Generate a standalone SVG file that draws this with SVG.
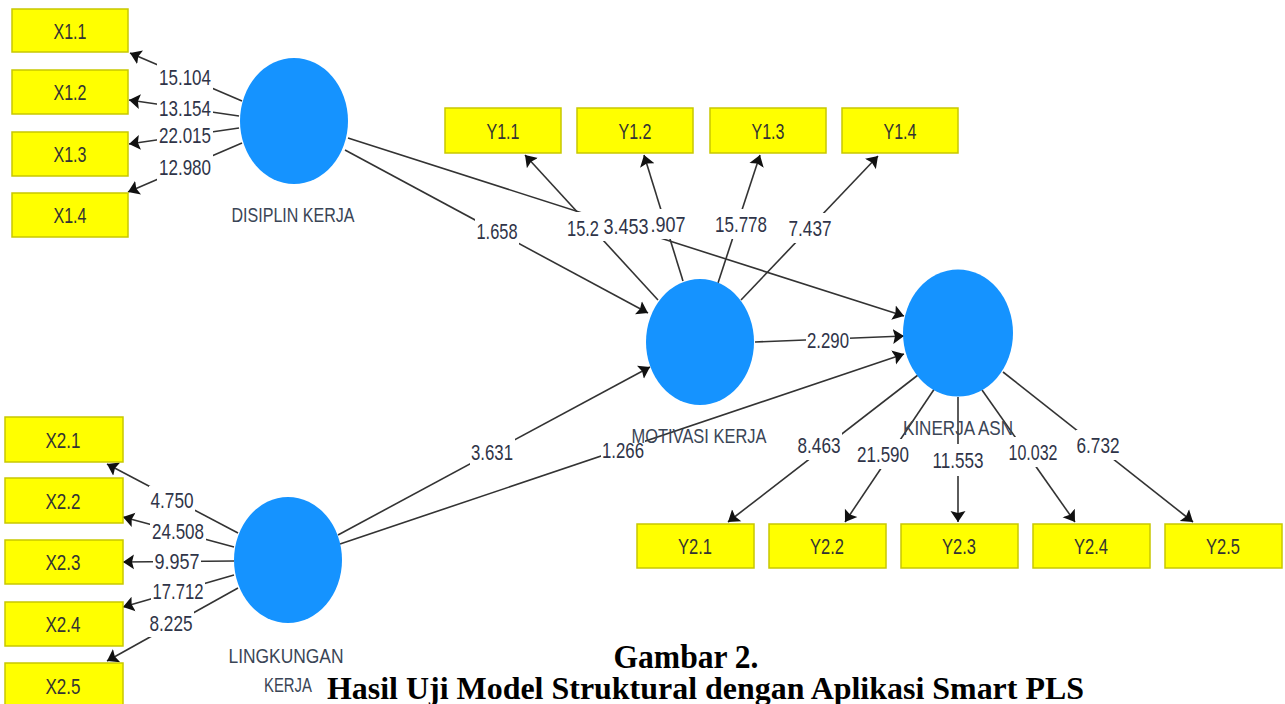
<svg xmlns="http://www.w3.org/2000/svg" width="1285" height="704" viewBox="0 0 1285 704">
<style>
.box{fill:#ffff00;stroke:#c8c800;stroke-width:1.5}
.bt{font-family:"Liberation Sans",Arial,sans-serif;font-size:22px;fill:#333;text-anchor:middle}
.lv{fill:#1593ff}
.nl{font-family:"Liberation Sans",Arial,sans-serif;font-size:21px;fill:#3a4556;text-anchor:middle}
.ln{stroke:#333;stroke-width:1.6;fill:none;marker-end:url(#ah)}
.bg{fill:#fff}
.num{font-family:"Liberation Sans",Arial,sans-serif;font-size:22px;fill:#2f3448;text-anchor:middle}
.cap{font-family:"Liberation Serif","Times New Roman",serif;font-weight:bold;fill:#000}
</style>
<defs>
<marker id="ah" markerUnits="userSpaceOnUse" markerWidth="12" markerHeight="16" viewBox="0 0 12 16" refX="11" refY="8" orient="auto">
<path d="M0,0.5 L11,8 L0,15.5 L2,8 z" fill="#111"/>
</marker>
</defs>
<rect width="1285" height="704" fill="#fff"/>

<g id="connectors">
<line class="ln" x1="242" y1="101" x2="130" y2="53"/>
<line class="ln" x1="239" y1="116" x2="129" y2="100"/>
<line class="ln" x1="239" y1="128" x2="129" y2="144"/>
<line class="ln" x1="242" y1="143" x2="128" y2="192"/>
<line class="ln" x1="238" y1="533" x2="107" y2="464"/>
<line class="ln" x1="234" y1="547" x2="123" y2="517"/>
<line class="ln" x1="234" y1="561" x2="123" y2="562"/>
<line class="ln" x1="234" y1="575" x2="123" y2="607"/>
<line class="ln" x1="238" y1="588" x2="107" y2="661"/>
<line class="ln" x1="345" y1="150" x2="648" y2="313"/>
<line class="ln" x1="348" y1="138" x2="904" y2="316"/>
<line class="ln" x1="755" y1="342" x2="904" y2="336"/>
<line class="ln" x1="338" y1="535" x2="650" y2="367"/>
<line class="ln" x1="340" y1="544" x2="904" y2="354"/>
<line class="ln" x1="658" y1="300" x2="525" y2="155"/>
<line class="ln" x1="683" y1="281" x2="644" y2="155"/>
<line class="ln" x1="718" y1="283" x2="760" y2="155"/>
<line class="ln" x1="741" y1="300" x2="878" y2="156"/>
<line class="ln" x1="918" y1="375" x2="728" y2="522"/>
<line class="ln" x1="935" y1="388" x2="845" y2="522"/>
<line class="ln" x1="958" y1="397" x2="958" y2="522"/>
<line class="ln" x1="982" y1="390" x2="1075" y2="522"/>
<line class="ln" x1="1003" y1="372" x2="1193" y2="522"/>
</g>

<g id="edge-labels">
<rect class="bg" x="157" y="63" width="56" height="28"/><text class="num" x="185" y="84.5" textLength="52" lengthAdjust="spacingAndGlyphs">15.104</text>
<rect class="bg" x="157" y="94" width="56" height="28"/><text class="num" x="185" y="115.5" textLength="52" lengthAdjust="spacingAndGlyphs">13.154</text>
<rect class="bg" x="157" y="121" width="56" height="28"/><text class="num" x="185" y="142.5" textLength="52" lengthAdjust="spacingAndGlyphs">22.015</text>
<rect class="bg" x="157" y="153" width="56" height="28"/><text class="num" x="185" y="174.5" textLength="52" lengthAdjust="spacingAndGlyphs">12.980</text>
<rect class="bg" x="149" y="486" width="46" height="28"/><text class="num" x="172" y="507.5" textLength="43" lengthAdjust="spacingAndGlyphs">4.750</text>
<rect class="bg" x="150" y="517" width="56" height="28"/><text class="num" x="178" y="538.5" textLength="52" lengthAdjust="spacingAndGlyphs">24.508</text>
<rect class="bg" x="153" y="547" width="48" height="28"/><text class="num" x="177" y="568.5" textLength="45" lengthAdjust="spacingAndGlyphs">9.957</text>
<rect class="bg" x="151" y="577" width="54" height="28"/><text class="num" x="178" y="598.5" textLength="51" lengthAdjust="spacingAndGlyphs">17.712</text>
<rect class="bg" x="148" y="609" width="46" height="28"/><text class="num" x="171" y="630.5" textLength="43" lengthAdjust="spacingAndGlyphs">8.225</text>
<rect class="bg" x="475" y="216" width="44" height="30"/><text class="num" x="497" y="238.5" textLength="41" lengthAdjust="spacingAndGlyphs">1.658</text>
<rect class="bg" x="566" y="212" width="35" height="30"/><text class="num" x="583" y="235.5" textLength="32" lengthAdjust="spacingAndGlyphs">15.2</text>
<rect class="bg" x="649" y="209" width="39" height="30"/><text class="num" x="668" y="231.5" textLength="35" lengthAdjust="spacingAndGlyphs">.907</text>
<rect class="bg" x="601" y="211" width="50" height="30"/><text class="num" x="626" y="233.5" textLength="45" lengthAdjust="spacingAndGlyphs">3.453</text>
<rect class="bg" x="713" y="209" width="56" height="30"/><text class="num" x="741" y="231.5" textLength="52" lengthAdjust="spacingAndGlyphs">15.778</text>
<rect class="bg" x="787" y="213" width="46" height="30"/><text class="num" x="810" y="235.5" textLength="43" lengthAdjust="spacingAndGlyphs">7.437</text>
<rect class="bg" x="806" y="326" width="44" height="28"/><text class="num" x="828" y="347.5" textLength="42" lengthAdjust="spacingAndGlyphs">2.290</text>
<rect class="bg" x="470" y="437" width="45" height="30"/><text class="num" x="492" y="459.5" textLength="42" lengthAdjust="spacingAndGlyphs">3.631</text>
<rect class="bg" x="601" y="437" width="44" height="28"/><text class="num" x="623" y="458" textLength="42" lengthAdjust="spacingAndGlyphs">1.266</text>
<rect class="bg" x="797" y="430" width="45" height="30"/><text class="num" x="819" y="452.5" textLength="43" lengthAdjust="spacingAndGlyphs">8.463</text>
<rect class="bg" x="856" y="439" width="55" height="30"/><text class="num" x="883" y="461.5" textLength="52" lengthAdjust="spacingAndGlyphs">21.590</text>
<rect class="bg" x="932" y="444" width="53" height="32"/><text class="num" x="958" y="467.5" textLength="51" lengthAdjust="spacingAndGlyphs">11.553</text>
<rect class="bg" x="1008" y="437" width="51" height="30"/><text class="num" x="1033" y="459.5" textLength="49" lengthAdjust="spacingAndGlyphs">10.032</text>
<rect class="bg" x="1076" y="430" width="45" height="30"/><text class="num" x="1098" y="452.5" textLength="43" lengthAdjust="spacingAndGlyphs">6.732</text>
</g>

<g id="node-disiplin"><ellipse class="lv" cx="294" cy="121" rx="54" ry="63"/><text class="nl" x="293" y="222" textLength="123" lengthAdjust="spacingAndGlyphs">DISIPLIN KERJA</text></g>
<g id="node-motivasi"><ellipse class="lv" cx="700" cy="342" rx="54" ry="63"/><text class="nl" x="699" y="443" textLength="135" lengthAdjust="spacingAndGlyphs">MOTIVASI KERJA</text></g>
<g id="node-kinerja"><ellipse class="lv" cx="958" cy="333" rx="55" ry="63.5"/><text class="nl" x="958" y="435" textLength="110" lengthAdjust="spacingAndGlyphs">KINERJA ASN</text></g>
<g id="node-lingkungan"><ellipse class="lv" cx="288" cy="560" rx="54" ry="63"/><text class="nl" x="286" y="663" textLength="115" lengthAdjust="spacingAndGlyphs">LINGKUNGAN</text><text class="nl" x="288" y="692" textLength="48" lengthAdjust="spacingAndGlyphs">KERJA</text></g>

<g id="node-x11"><rect class="box" x="12" y="9" width="116" height="43"/><text class="bt" x="70" y="38.5" textLength="33" lengthAdjust="spacingAndGlyphs">X1.1</text></g>
<g id="node-x12"><rect class="box" x="12" y="70" width="116" height="44"/><text class="bt" x="70" y="99.5" textLength="33" lengthAdjust="spacingAndGlyphs">X1.2</text></g>
<g id="node-x13"><rect class="box" x="12" y="132" width="116" height="44"/><text class="bt" x="70" y="161.5" textLength="33" lengthAdjust="spacingAndGlyphs">X1.3</text></g>
<g id="node-x14"><rect class="box" x="12" y="193" width="116" height="44"/><text class="bt" x="70" y="222.5" textLength="33" lengthAdjust="spacingAndGlyphs">X1.4</text></g>

<g id="node-x21"><rect class="box" x="5" y="417" width="118" height="45"/><text class="bt" x="63" y="447.5" textLength="35" lengthAdjust="spacingAndGlyphs">X2.1</text></g>
<g id="node-x22"><rect class="box" x="5" y="478" width="118" height="45"/><text class="bt" x="63" y="508.5" textLength="35" lengthAdjust="spacingAndGlyphs">X2.2</text></g>
<g id="node-x23"><rect class="box" x="5" y="540" width="118" height="44"/><text class="bt" x="63" y="569.5" textLength="35" lengthAdjust="spacingAndGlyphs">X2.3</text></g>
<g id="node-x24"><rect class="box" x="5" y="602" width="118" height="44"/><text class="bt" x="63" y="631.5" textLength="35" lengthAdjust="spacingAndGlyphs">X2.4</text></g>
<g id="node-x25"><rect class="box" x="5" y="663" width="118" height="45"/><text class="bt" x="63" y="693.5" textLength="35" lengthAdjust="spacingAndGlyphs">X2.5</text></g>

<g id="node-y11"><rect class="box" x="445" y="108" width="116" height="45"/><text class="bt" x="503" y="138.5" textLength="33" lengthAdjust="spacingAndGlyphs">Y1.1</text></g>
<g id="node-y12"><rect class="box" x="577" y="108" width="116" height="45"/><text class="bt" x="635" y="138.5" textLength="33" lengthAdjust="spacingAndGlyphs">Y1.2</text></g>
<g id="node-y13"><rect class="box" x="710" y="108" width="116" height="45"/><text class="bt" x="768" y="138.5" textLength="33" lengthAdjust="spacingAndGlyphs">Y1.3</text></g>
<g id="node-y14"><rect class="box" x="842" y="108" width="116" height="45"/><text class="bt" x="900" y="138.5" textLength="33" lengthAdjust="spacingAndGlyphs">Y1.4</text></g>

<g id="node-y21"><rect class="box" x="637" y="524" width="117" height="44"/><text class="bt" x="695" y="553.5" textLength="34" lengthAdjust="spacingAndGlyphs">Y2.1</text></g>
<g id="node-y22"><rect class="box" x="769" y="524" width="117" height="44"/><text class="bt" x="827" y="553.5" textLength="34" lengthAdjust="spacingAndGlyphs">Y2.2</text></g>
<g id="node-y23"><rect class="box" x="901" y="524" width="117" height="44"/><text class="bt" x="959" y="553.5" textLength="34" lengthAdjust="spacingAndGlyphs">Y2.3</text></g>
<g id="node-y24"><rect class="box" x="1033" y="524" width="117" height="44"/><text class="bt" x="1091" y="553.5" textLength="34" lengthAdjust="spacingAndGlyphs">Y2.4</text></g>
<g id="node-y25"><rect class="box" x="1165" y="524" width="117" height="44"/><text class="bt" x="1223" y="553.5" textLength="34" lengthAdjust="spacingAndGlyphs">Y2.5</text></g>

<g id="caption">
<text class="cap" x="686" y="668" font-size="33" text-anchor="middle" textLength="145" lengthAdjust="spacingAndGlyphs">Gambar 2.</text>
<text class="cap" x="327" y="699" font-size="31" textLength="757" lengthAdjust="spacingAndGlyphs">Hasil Uji Model Struktural dengan Aplikasi Smart PLS</text>
</g>
</svg>
